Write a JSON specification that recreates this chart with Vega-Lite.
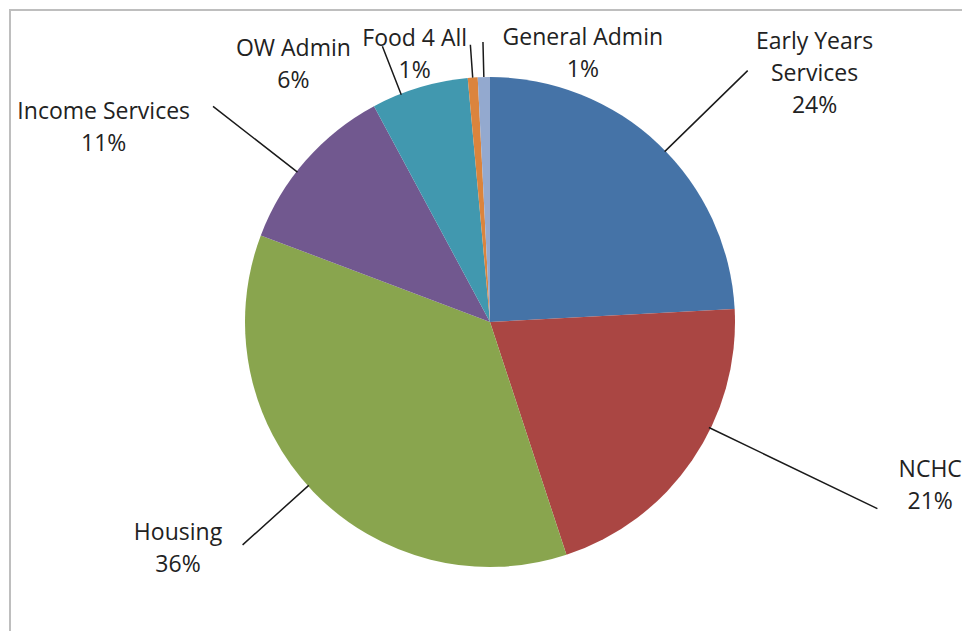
{
  "$schema": "https://vega.github.io/schema/vega-lite/v6.json",
  "autosize": {"type": "none"},
  "padding": {"left": 10, "top": 10, "right": -8, "bottom": -3},
  "width": 960,
  "height": 624,
  "background": "white",
  "view": {"stroke": "#BEBEBE", "strokeWidth": 2},
  "config": {"view": {"stroke": "#BEBEBE", "strokeWidth": 2}},
  "data": {
    "values": [
      {"category": "Early Years Services", "value": 24.15},
      {"category": "NCHC", "value": 20.8},
      {"category": "Housing", "value": 35.8},
      {"category": "Income Services", "value": 11.4},
      {"category": "OW Admin", "value": 6.4},
      {"category": "Food 4 All", "value": 0.65},
      {"category": "General Admin", "value": 0.8}
    ]
  },
  "transform": [
    {"joinaggregate": [{"op": "sum", "field": "value", "as": "total"}]},
    {"window": [{"op": "sum", "field": "value", "as": "cum"}], "frame": [null, 0]},
    {"calculate": "datum.cum - datum.value", "as": "start"},
    {"calculate": "datum.cum - datum.value / 2", "as": "mid"},
    {"calculate": "replace(datum.category, 'Early Years ', 'Early Years|') + '|' + format(datum.value / datum.total, '.0%')", "as": "label"}
  ],
  "layer": [
    {
      "mark": {"type": "arc", "radius": 245},
      "encoding": {
        "theta": {"field": "start", "type": "quantitative", "stack": null, "scale": {"domain": [0, 100]}},
        "theta2": {"field": "cum"},
        "color": {
          "field": "category",
          "type": "nominal",
          "legend": null,
          "scale": {
            "domain": ["Early Years Services", "NCHC", "Housing", "Income Services", "OW Admin", "Food 4 All", "General Admin"],
            "range": ["#4573A7", "#AA4643", "#89A54E", "#71588F", "#4198AF", "#DB843D", "#93A9CF"]
          }
        }
      }
    },
    {
      "transform": [{"filter": "datum.category === 'Early Years Services'"}],
      "layer": [
        {"mark": {"type": "arc", "radius": 360, "radius2": 244, "thetaOffset": 0.039, "theta2Offset": 0.039, "fill": null, "stroke": "#1a1a1a", "strokeWidth": 1.5},
         "encoding": {"theta": {"field": "mid", "type": "quantitative", "stack": null, "scale": {"domain": [0, 100]}}, "theta2": {"field": "mid"}}},
        {"mark": {"type": "text", "radius": 245, "dx": 156, "dy": -102, "align": "center", "baseline": "middle", "lineBreak": "|", "lineHeight": 32, "font": "Open Sans", "fontSize": 23, "color": "#222222"},
         "encoding": {"theta": {"field": "mid", "type": "quantitative", "stack": null, "scale": {"domain": [0, 100]}}, "text": {"field": "label"}}}
      ]
    },
    {
      "transform": [{"filter": "datum.category === 'NCHC'"}],
      "layer": [
        {"mark": {"type": "arc", "radius": 430, "radius2": 243, "thetaOffset": -0.151, "theta2Offset": -0.151, "fill": null, "stroke": "#1a1a1a", "strokeWidth": 1.5},
         "encoding": {"theta": {"field": "mid", "type": "quantitative", "stack": null, "scale": {"domain": [0, 100]}}, "theta2": {"field": "mid"}}},
        {"mark": {"type": "text", "radius": 245, "dx": 238, "dy": 10, "align": "center", "baseline": "middle", "lineBreak": "|", "lineHeight": 32, "font": "Open Sans", "fontSize": 23, "color": "#222222"},
         "encoding": {"theta": {"field": "mid", "type": "quantitative", "stack": null, "scale": {"domain": [0, 100]}}, "text": {"field": "label"}}}
      ]
    },
    {
      "transform": [{"filter": "datum.category === 'Housing'"}],
      "layer": [
        {"mark": {"type": "arc", "radius": 333, "radius2": 244, "thetaOffset": 0.03, "theta2Offset": 0.03, "fill": null, "stroke": "#1a1a1a", "strokeWidth": 1.5},
         "encoding": {"theta": {"field": "mid", "type": "quantitative", "stack": null, "scale": {"domain": [0, 100]}}, "theta2": {"field": "mid"}}},
        {"mark": {"type": "text", "radius": 245, "dx": -135, "dy": 42, "align": "center", "baseline": "middle", "lineBreak": "|", "lineHeight": 32, "font": "Open Sans", "fontSize": 23, "color": "#222222"},
         "encoding": {"theta": {"field": "mid", "type": "quantitative", "stack": null, "scale": {"domain": [0, 100]}}, "text": {"field": "label"}}}
      ]
    },
    {
      "transform": [{"filter": "datum.category === 'Income Services'"}],
      "layer": [
        {"mark": {"type": "arc", "radius": 351, "radius2": 244, "thetaOffset": -0.058, "theta2Offset": -0.058, "fill": null, "stroke": "#1a1a1a", "strokeWidth": 1.5},
         "encoding": {"theta": {"field": "mid", "type": "quantitative", "stack": null, "scale": {"domain": [0, 100]}}, "theta2": {"field": "mid"}}},
        {"mark": {"type": "text", "radius": 245, "dx": -202, "dy": -49, "align": "center", "baseline": "middle", "lineBreak": "|", "lineHeight": 32, "font": "Open Sans", "fontSize": 23, "color": "#222222"},
         "encoding": {"theta": {"field": "mid", "type": "quantitative", "stack": null, "scale": {"domain": [0, 100]}}, "text": {"field": "label"}}}
      ]
    },
    {
      "transform": [{"filter": "datum.category === 'OW Admin'"}],
      "layer": [
        {"mark": {"type": "arc", "radius": 296, "radius2": 244, "thetaOffset": -0.08, "theta2Offset": -0.08, "fill": null, "stroke": "#1a1a1a", "strokeWidth": 1.5},
         "encoding": {"theta": {"field": "mid", "type": "quantitative", "stack": null, "scale": {"domain": [0, 100]}}, "theta2": {"field": "mid"}}},
        {"mark": {"type": "text", "radius": 245, "dx": -126, "dy": -38, "align": "center", "baseline": "middle", "lineBreak": "|", "lineHeight": 32, "font": "Open Sans", "fontSize": 23, "color": "#222222"},
         "encoding": {"theta": {"field": "mid", "type": "quantitative", "stack": null, "scale": {"domain": [0, 100]}}, "text": {"field": "label"}}}
      ]
    },
    {
      "transform": [{"filter": "datum.category === 'Food 4 All'"}],
      "layer": [
        {"mark": {"type": "arc", "radius": 278, "radius2": 245, "fill": null, "stroke": "#1a1a1a", "strokeWidth": 1.5},
         "encoding": {"theta": {"field": "mid", "type": "quantitative", "stack": null, "scale": {"domain": [0, 100]}}, "theta2": {"field": "mid"}}},
        {"mark": {"type": "text", "radius": 245, "dx": -58, "dy": -39, "align": "center", "baseline": "middle", "lineBreak": "|", "lineHeight": 32, "font": "Open Sans", "fontSize": 23, "color": "#222222"},
         "encoding": {"theta": {"field": "mid", "type": "quantitative", "stack": null, "scale": {"domain": [0, 100]}}, "text": {"field": "label"}}}
      ]
    },
    {
      "transform": [{"filter": "datum.category === 'General Admin'"}],
      "layer": [
        {"mark": {"type": "arc", "radius": 280, "radius2": 245, "fill": null, "stroke": "#1a1a1a", "strokeWidth": 1.5},
         "encoding": {"theta": {"field": "mid", "type": "quantitative", "stack": null, "scale": {"domain": [0, 100]}}, "theta2": {"field": "mid"}}},
        {"mark": {"type": "text", "radius": 245, "dx": 99, "dy": -39, "align": "center", "baseline": "middle", "lineBreak": "|", "lineHeight": 32, "font": "Open Sans", "fontSize": 23, "color": "#222222"},
         "encoding": {"theta": {"field": "mid", "type": "quantitative", "stack": null, "scale": {"domain": [0, 100]}}, "text": {"field": "label"}}}
      ]
    }
  ]
}
